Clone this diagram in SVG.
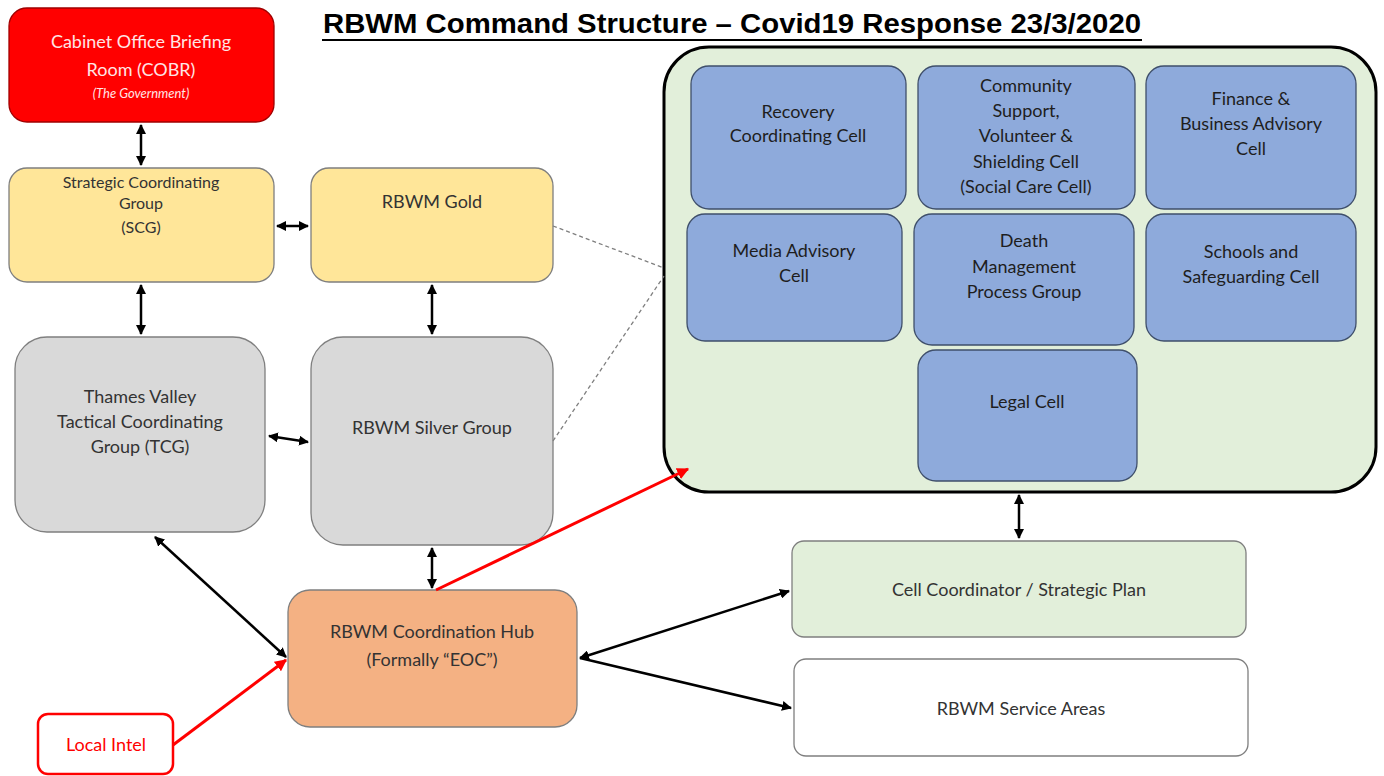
<svg xmlns="http://www.w3.org/2000/svg" width="1384" height="776" viewBox="0 0 1384 776">
<style>
text{font-family:Lato,"Open Sans","Liberation Sans",sans-serif;text-anchor:middle;fill:#333333;font-size:18px}
.box{stroke:#7f7f7f;stroke-width:1.3}
.cell rect{fill:#8eaadb;stroke:#3f4f6b;stroke-width:1.3}
.cell text{fill:#1e1e1e}
.con{fill:none;stroke:#000;stroke-width:2.5}
.red{fill:none;stroke:#ff0000;stroke-width:3}
.dash{fill:none;stroke:#7f7f7f;stroke-width:1.3;stroke-dasharray:4 3}
</style>
<defs>
<marker id="ah" viewBox="0 0 10 10" refX="9" refY="5" markerWidth="4" markerHeight="4" orient="auto-start-reverse"><path d="M0,0 L10,5 L0,10 z" fill="#000"/></marker>
<marker id="ahr" viewBox="0 0 10 10" refX="9" refY="5" markerWidth="4" markerHeight="4" orient="auto"><path d="M0,0 L10,5 L0,10 z" fill="#ff0000"/></marker>
</defs>
<rect width="1384" height="776" fill="#fff"/>
<g id="title">
<text x="732" y="33" style="font-family:'Liberation Sans',Arial,sans-serif;font-weight:bold;font-size:27px;fill:#000" textLength="818" lengthAdjust="spacingAndGlyphs">RBWM Command Structure – Covid19 Response 23/3/2020</text>
<line x1="322" y1="40" x2="1142" y2="40" stroke="#000" stroke-width="2"/>
</g>
<g id="cobr">
<rect x="9" y="8" width="265" height="114" rx="18" fill="#ff0000" stroke="#a00000" stroke-width="1.3"/>
<text x="141" y="48" style="fill:#ffe5e5">Cabinet Office Briefing</text>
<text x="141" y="76" style="fill:#ffe5e5">Room (COBR)</text>
<text x="141" y="98" style="fill:#ffe5e5;font-style:italic;font-size:13px">(The Government)</text>
</g>
<g id="scg">
<rect class="box" x="9" y="168" width="265" height="114" rx="18" fill="#ffe699"/>
<text x="141" y="188" style="font-size:16px">Strategic Coordinating</text>
<text x="141" y="209" style="font-size:16px">Group</text>
<text x="141" y="233" style="font-size:16px">(SCG)</text>
</g>
<g id="gold">
<rect class="box" x="311" y="168" width="242" height="114" rx="18" fill="#ffe699"/>
<text x="432" y="208">RBWM Gold</text>
</g>
<g id="tcg">
<rect class="box" x="15" y="337" width="250" height="195" rx="32" fill="#d9d9d9"/>
<text x="140" y="403">Thames Valley</text>
<text x="140" y="428">Tactical Coordinating</text>
<text x="140" y="453">Group (TCG)</text>
</g>
<g id="silver">
<rect class="box" x="311" y="337" width="242" height="208" rx="32" fill="#d9d9d9"/>
<text x="432" y="434">RBWM Silver Group</text>
</g>
<g id="hub">
<rect class="box" x="288" y="590" width="289" height="137" rx="22" fill="#f4b183"/>
<text x="432" y="638">RBWM Coordination Hub</text>
<text x="432" y="666">(Formally “EOC”)</text>
</g>
<g id="local-intel">
<rect x="38" y="714" width="135" height="60" rx="10" fill="#fff" stroke="#ff0000" stroke-width="2.5"/>
<text x="106" y="751" style="fill:#ff0000">Local Intel</text>
</g>
<g id="cells-container">
<rect x="664" y="47" width="712" height="445" rx="45" fill="#e2efda" stroke="#000" stroke-width="3"/>
</g>
<g id="recovery" class="cell">
<rect x="691" y="66" width="215" height="143" rx="18"/>
<text x="798" y="118">Recovery</text>
<text x="798" y="142">Coordinating Cell</text>
</g>
<g id="community" class="cell">
<rect x="918" y="66" width="217" height="143" rx="18"/>
<text x="1026" y="92">Community</text>
<text x="1026" y="117">Support,</text>
<text x="1026" y="142">Volunteer &amp;</text>
<text x="1026" y="168">Shielding Cell</text>
<text x="1026" y="193">(Social Care Cell)</text>
</g>
<g id="finance" class="cell">
<rect x="1146" y="66" width="210" height="143" rx="18"/>
<text x="1251" y="105">Finance &amp;</text>
<text x="1251" y="130">Business Advisory</text>
<text x="1251" y="155">Cell</text>
</g>
<g id="media" class="cell">
<rect x="687" y="214" width="215" height="127" rx="18"/>
<text x="794" y="257">Media Advisory</text>
<text x="794" y="282">Cell</text>
</g>
<g id="death" class="cell">
<rect x="914" y="214" width="220" height="131" rx="18"/>
<text x="1024" y="247">Death</text>
<text x="1024" y="273">Management</text>
<text x="1024" y="298">Process Group</text>
</g>
<g id="schools" class="cell">
<rect x="1146" y="214" width="210" height="127" rx="18"/>
<text x="1251" y="258">Schools and</text>
<text x="1251" y="283">Safeguarding Cell</text>
</g>
<g id="legal" class="cell">
<rect x="918" y="350" width="219" height="131" rx="18"/>
<text x="1027" y="408">Legal Cell</text>
</g>
<g id="cell-coordinator">
<rect class="box" x="792" y="541" width="454" height="96" rx="12" fill="#e2efda"/>
<text x="1019" y="596">Cell Coordinator / Strategic Plan</text>
</g>
<g id="service-areas">
<rect class="box" x="794" y="659" width="454" height="97" rx="12" fill="#fff"/>
<text x="1021" y="715">RBWM Service Areas</text>
</g>
<g id="connectors">
<line class="con" x1="141" y1="125" x2="141" y2="165" marker-start="url(#ah)" marker-end="url(#ah)"/>
<line class="con" x1="277" y1="226" x2="308" y2="226" marker-start="url(#ah)" marker-end="url(#ah)"/>
<line class="con" x1="141" y1="285" x2="141" y2="334" marker-start="url(#ah)" marker-end="url(#ah)"/>
<line class="con" x1="432" y1="285" x2="432" y2="334" marker-start="url(#ah)" marker-end="url(#ah)"/>
<line class="con" x1="269" y1="436" x2="308" y2="442" marker-start="url(#ah)" marker-end="url(#ah)"/>
<line class="con" x1="432" y1="548" x2="432" y2="588" marker-start="url(#ah)" marker-end="url(#ah)"/>
<line class="con" x1="155" y1="537" x2="286" y2="657" stroke-width="2" marker-start="url(#ah)" marker-end="url(#ah)"/>
<line class="con" x1="580" y1="658" x2="789" y2="591" marker-start="url(#ah)" marker-end="url(#ah)"/>
<line class="con" x1="580" y1="658" x2="791" y2="708" marker-end="url(#ah)"/>
<line class="con" x1="1019" y1="495" x2="1019" y2="538" marker-start="url(#ah)" marker-end="url(#ah)"/>
<line class="red" x1="173" y1="745" x2="286" y2="660" marker-end="url(#ahr)"/>
<line class="red" x1="436" y1="590" x2="688" y2="469" marker-end="url(#ahr)"/>
<line class="dash" x1="553" y1="226" x2="664" y2="268"/>
<line class="dash" x1="553" y1="441" x2="664" y2="276"/>
</g>
</svg>
